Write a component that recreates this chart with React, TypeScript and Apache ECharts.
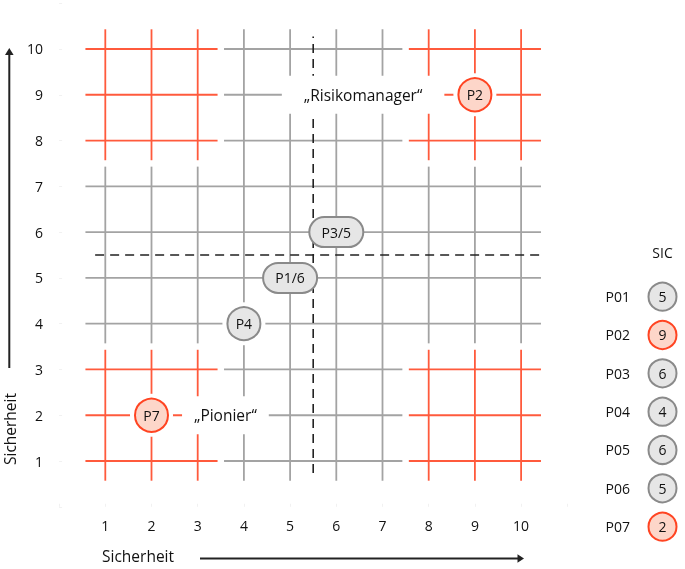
import React, { useEffect, useRef } from "react";
import * as echarts from "echarts";

// ---- data ----
const gridValues = [1, 2, 3, 4, 5, 6, 7, 8, 9, 10];
const bands = [[1, 2, 3], [4, 5, 6, 7], [8, 9, 10]];
const redBands = [[0, 0], [0, 2], [2, 0], [2, 2]]; // [xBand, yBand]
const divider = 5.5;

const pointNames = ["P2", "P7", "P4", "P1/6", "P3/5"];
const pointX = [9, 2, 4, 5, 6];
const pointY = [9, 2, 4, 5, 6];
const pointRed = [true, true, false, false, false];

const zoneLabels = ["\u201ERisikomanager\u201C", "\u201EPionier\u201C"];
const zoneLabelX = [6.58, 3.6];
const zoneLabelY = [9, 2];

const sicNames = ["P01", "P02", "P03", "P04", "P05", "P06", "P07"];
const sicValues = [5, 9, 6, 4, 6, 5, 2];
const sicRed = [false, true, false, false, false, false, true];

const axisTitle = "Sicherheit";

// ---- styles ----
const RED = "#ff5a3c";
const RED_STROKE = "#ff4422";
const RED_FILL = "#fdd6c9";
const GRAY = "#a3a3a3";
const GRAY_STROKE = "#8a8a8a";
const GRAY_FILL = "#e6e6e6";
const TEXT = "#111";
const FONT = "'Open Sans', 'Noto Sans', sans-serif";
const PAD = 0.43;

function ext(i: number): [number, number] {
  const b = bands[i];
  return [b[0] - PAD, b[b.length - 1] + PAD];
}
const isRed = (i: number, j: number) => redBands.some(([a, b]) => a === i && b === j);

const segments: number[][] = [];
bands.forEach((band, j) =>
  band.forEach((v) => {
    if (j === 1) {
      segments.push([ext(0)[0], v, ext(2)[1], v, 0]);
      segments.push([v, ext(0)[0], v, ext(2)[1], 0]);
    } else {
      for (let i = 0; i < 3; i++) {
        const [lo, hi] = ext(i);
        segments.push([lo, v, hi, v, isRed(i, j) ? 1 : 0]);
        segments.push([v, lo, v, hi, isRed(j, i) ? 1 : 0]);
      }
    }
  })
);
const dashed = [
  [divider, 0.74, divider, 10.27],
  [0.78, divider, 10.43, divider],
];

export default function App() {
  const ref = useRef<HTMLDivElement>(null);
  useEffect(() => {
    const chart = echarts.init(ref.current!, null, { renderer: "svg" });
    const option: any = {
      animation: false,
      textStyle: { fontFamily: FONT },
      grid: [
        { left: 59.1, top: 3.2, width: 508.2, height: 503.6 },
        { left: 640, top: 277.5, width: 58, height: 268.3 },
      ],
      xAxis: [
        {
          gridIndex: 0,
          type: "value",
          min: 0,
          max: 11,
          interval: 1,
          axisLine: { show: false },
          axisTick: { show: true, inside: true, length: 3, lineStyle: { color: "#f1f1f1" } },
          splitLine: { show: false },
          axisLabel: {
            margin: 12,
            fontSize: 14,
            color: TEXT,
            fontFamily: FONT,
            formatter: (v: number) => (gridValues.includes(v) ? String(v) : ""),
          },
        },
        {
          gridIndex: 1,
          type: "value",
          min: 0,
          max: 1,
          position: "top",
          name: "SIC",
          nameLocation: "middle",
          nameGap: 18,
          nameTextStyle: { fontSize: 14, color: TEXT, fontFamily: FONT },
          axisLine: { show: false },
          axisTick: { show: false },
          axisLabel: { show: false },
          splitLine: { show: false },
        },
      ],
      yAxis: [
        {
          gridIndex: 0,
          type: "value",
          min: 0,
          max: 11,
          interval: 1,
          axisLine: { show: false },
          axisTick: { show: true, inside: true, length: 3, lineStyle: { color: "#f1f1f1" } },
          splitLine: { show: false },
          axisLabel: {
            margin: 16,
            fontSize: 14,
            color: TEXT,
            fontFamily: FONT,
            formatter: (v: number) => (gridValues.includes(v) ? String(v) : ""),
          },
        },
        {
          gridIndex: 1,
          type: "category",
          inverse: true,
          data: sicNames,
          axisLine: { show: false },
          axisTick: { show: false },
          splitLine: { show: false },
          axisLabel: { margin: 10, fontSize: 14, color: TEXT, fontFamily: FONT },
        },
      ],
      series: [
        {
          type: "custom",
          name: "grid",
          xAxisIndex: 0,
          yAxisIndex: 0,
          z: 1,
          silent: true,
          data: segments,
          encode: { x: [0, 2], y: [1, 3] },
          renderItem: (params: any, api: any) => {
            const a = api.coord([api.value(0), api.value(1)]);
            const b = api.coord([api.value(2), api.value(3)]);
            return {
              type: "line",
              shape: { x1: a[0], y1: a[1], x2: b[0], y2: b[1] },
              style: { stroke: api.value(4) ? RED : GRAY, lineWidth: 1.8 },
            };
          },
        },
        {
          type: "custom",
          name: "divider",
          xAxisIndex: 0,
          yAxisIndex: 0,
          z: 2,
          silent: true,
          data: dashed,
          encode: { x: [0, 2], y: [1, 3] },
          renderItem: (params: any, api: any) => {
            const a = api.coord([api.value(0), api.value(1)]);
            const b = api.coord([api.value(2), api.value(3)]);
            return {
              type: "line",
              shape: { x1: a[0], y1: a[1], x2: b[0], y2: b[1] },
              style: { stroke: "#222", lineWidth: 1.6, lineDash: [9, 6] },
            };
          },
        },
        {
          type: "scatter",
          name: "zones",
          xAxisIndex: 0,
          yAxisIndex: 0,
          z: 3,
          silent: true,
          symbolSize: 1,
          itemStyle: { color: "#fff", opacity: 1 },
          data: zoneLabels.map((t, i) => ({
            name: t,
            value: [zoneLabelX[i], zoneLabelY[i]],
            label: { padding: i === 0 ? [10, 22, 10, 22] : [10, 12, 10, 12] },
          })),
          label: {
            show: true,
            position: "inside",
            formatter: "{b}",
            backgroundColor: "#fff",
            color: TEXT,
            fontSize: 15.5,
            lineHeight: 18,
            fontFamily: FONT,
            opacity: 1,
          },
        },
        {
          type: "custom",
          name: "points",
          xAxisIndex: 0,
          yAxisIndex: 0,
          z: 4,
          silent: true,
          data: pointNames.map((n, i) => [pointX[i], pointY[i]]),
          renderItem: (params: any, api: any) => {
            const i = params.dataIndex;
            const c = api.coord([api.value(0), api.value(1)]);
            const red = pointRed[i];
            const pill = pointNames[i].includes("/");
            const fill = red ? RED_FILL : GRAY_FILL;
            const stroke = red ? RED_STROKE : GRAY_STROKE;
            const children: any[] = [];
            if (pill) {
              children.push({
                type: "rect",
                shape: { x: c[0] - 27, y: c[1] - 15, width: 54, height: 30, r: 15 },
                style: { fill, stroke, lineWidth: 2 },
              });
            } else {
              children.push({
                type: "circle",
                shape: { cx: c[0], cy: c[1], r: 21.5 },
                style: { fill: "#fff" },
              });
              children.push({
                type: "circle",
                shape: { cx: c[0], cy: c[1], r: 16.5 },
                style: { fill, stroke, lineWidth: 2 },
              });
            }
            children.push({
              type: "text",
              style: {
                text: pointNames[i],
                x: c[0],
                y: c[1],
                align: "center",
                verticalAlign: "middle",
                fill: TEXT,
                fontSize: 14,
                fontFamily: FONT,
              },
            });
            return { type: "group", children };
          },
        },
        {
          type: "scatter",
          name: "SIC",
          xAxisIndex: 1,
          yAxisIndex: 1,
          z: 4,
          silent: true,
          symbolSize: 28,
          data: sicNames.map((n, i) => ({
            value: [0.5, n],
            itemStyle: {
              color: sicRed[i] ? RED_FILL : GRAY_FILL,
              borderColor: sicRed[i] ? RED_STROKE : GRAY_STROKE,
              borderWidth: 2,
              opacity: 1,
            },
          })),
          label: {
            show: true,
            position: "inside",
            formatter: (p: any) => String(sicValues[p.dataIndex]),
            color: TEXT,
            fontSize: 14,
            fontFamily: FONT,
          },
        },
      ],
      graphic: [
        {
          type: "text",
          left: 102,
          top: 548,
          style: { text: axisTitle, fontSize: 15.5, fill: TEXT, fontFamily: FONT },
        },
        {
          type: "line",
          shape: { x1: 200, y1: 558.5, x2: 519, y2: 558.5 },
          style: { stroke: "#222", lineWidth: 2 },
        },
        {
          type: "polygon",
          shape: { points: [[524, 558.5], [517.5, 554.3], [517.5, 562.7]] },
          style: { fill: "#222" },
        },
        {
          type: "line",
          shape: { x1: 9.3, y1: 368, x2: 9.3, y2: 54 },
          style: { stroke: "#222", lineWidth: 2 },
        },
        {
          type: "polygon",
          shape: { points: [[9.3, 48], [5, 55], [13.6, 55]] },
          style: { fill: "#222" },
        },
        {
          type: "text",
          x: 9.5,
          y: 429,
          rotation: Math.PI / 2,
          style: {
            text: axisTitle,
            fontSize: 15.5,
            fill: TEXT,
            fontFamily: FONT,
            align: "center",
            verticalAlign: "middle",
          },
        },
      ],
    };
    chart.setOption(option);
    return () => chart.dispose();
  }, []);
  return (
    <div
      ref={ref}
      style={{ position: "fixed", left: 0, top: 0, width: 685, height: 569 }}
    />
  );
}
